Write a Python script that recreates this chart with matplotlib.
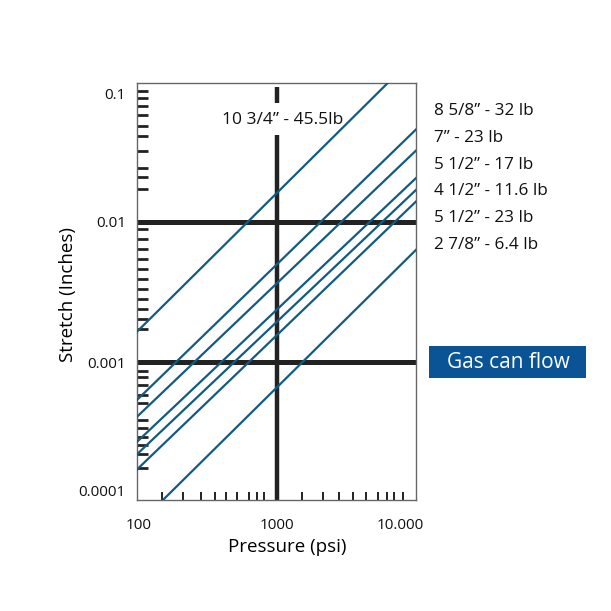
import matplotlib.pyplot as plt
from matplotlib.patches import Rectangle

plt.rcParams['font.family'] = ['Open Sans', 'DejaVu Sans']

# pressure range of each drawn line (psi)
pressure_ends = [100, 10000]

# stretch (inches) at 100 psi and at 10000 psi
line_names = ['10 3/4” - 45.5lb', '8 5/8” - 32 lb', '7” - 23 lb', '5 1/2” - 17 lb',
              '4 1/2” - 11.6 lb', '5 1/2” - 23 lb', '2 7/8” - 6.4 lb']
stretch_at_100 = [0.00165, 0.00054, 0.00041, 0.000272, 0.000222, 0.000173, 0.000069]
stretch_at_10000 = [0.153, 0.0452, 0.0320, 0.0204, 0.0168, 0.0139, 0.0063]

legend_labels = line_names[1:]

# reference grid lines
ref_stretch = [0.01, 0.001]
ref_pressure = 1000
vline_low = [0.000105, 0.0414]
vline_dash = [0.0698, 0.0908]

# hand drawn tick marks
y_minor = [0.0851, 0.0755, 0.0668, 0.0574, 0.0482, 0.0409, 0.0320, 0.0242, 0.0206, 0.0170,
           0.00883, 0.00750, 0.00637, 0.00541, 0.00459, 0.00389, 0.00331, 0.00281, 0.00238,
           0.00204, 0.00173,
           0.000872, 0.000782, 0.000690, 0.000585, 0.000511, 0.000389, 0.000339, 0.000296,
           0.000258, 0.000222, 0.000176]
x_minor = [150, 215, 286, 362, 434, 522, 634, 719, 815,
           1525, 2156, 2806, 3535, 4358, 5337, 6191, 6948, 8059]
y_label_pos = [0.000122, 0.001, 0.01, 0.081]
y_label_txt = ['0.0001', '0.001', '0.01', '0.1']
x_label_pos = [103, 1000, 7770]
x_label_txt = ['100', '1000', '10.000']

blue = '#135b82'

fig = plt.figure(figsize=(6.11, 6.11), dpi=100)
ax = fig.add_axes([137 / 611, 111 / 611, 279 / 611, 417 / 611])
ax.set_xscale('log')
ax.set_yscale('log')
ax.set_xlim(100, 10000)
ax.set_ylim(0.000105, 0.0967)

for lo, hi in zip(stretch_at_100, stretch_at_10000):
    ax.plot(pressure_ends, [lo, hi], color=blue, lw=1.6, zorder=4)

for s in ref_stretch:
    ax.axhline(s, color='#222222', lw=3.6, zorder=2)
ax.vlines(ref_pressure, vline_low[0], vline_low[1], color='#222222', lw=3.2, zorder=2)
ax.vlines(ref_pressure, vline_dash[0], vline_dash[1], color='#222222', lw=3.2, zorder=2)

ax.text(0.523, 0.911, line_names[0], transform=ax.transAxes, ha='center', va='center',
        fontsize=12.5, color='#111111', zorder=3)

ax.set_yticks(y_label_pos)
ax.set_yticklabels(y_label_txt)
ax.set_yticks(y_minor, minor=True)
ax.set_xticks(x_label_pos)
ax.set_xticklabels(x_label_txt)
ax.set_xticks(x_minor, minor=True)
ax.yaxis.set_minor_formatter(plt.NullFormatter())
ax.xaxis.set_minor_formatter(plt.NullFormatter())
ax.tick_params(axis='both', which='major', length=0, labelsize=11, colors='#111111')
ax.tick_params(axis='y', which='major', pad=8)
ax.tick_params(axis='x', which='major', pad=13)
ax.tick_params(axis='y', which='minor', direction='in', length=8, width=2, color='#222222')
ax.tick_params(axis='x', which='minor', direction='in', length=6, width=1.4, color='#222222')

for sp in ax.spines.values():
    sp.set_color('#666666')
    sp.set_linewidth(1)

ax.set_ylabel('Stretch (Inches)', fontsize=13.5)
ax.yaxis.set_label_coords(-0.215, 0.492)
ax.set_xlabel('Pressure (psi)', fontsize=13.5)
ax.xaxis.set_label_coords(0.539, -0.09)

# legend text on the right
for i, lab in enumerate(legend_labels):
    fig.text(434 / 611, 1 - (111 + i * 26.8) / 611, lab, ha='left', va='center',
             fontsize=12.3, color='#111111')

# "Gas can flow" box
fig.add_artist(Rectangle((429 / 611, 1 - 378 / 611), 157 / 611, 32 / 611,
                         transform=fig.transFigure, facecolor='#0a5495', edgecolor='none'))
fig.text(508 / 611, 1 - 362 / 611, 'Gas can flow', ha='center', va='center',
         fontsize=15, color='white')

fig.savefig('out.png', dpi=100)
